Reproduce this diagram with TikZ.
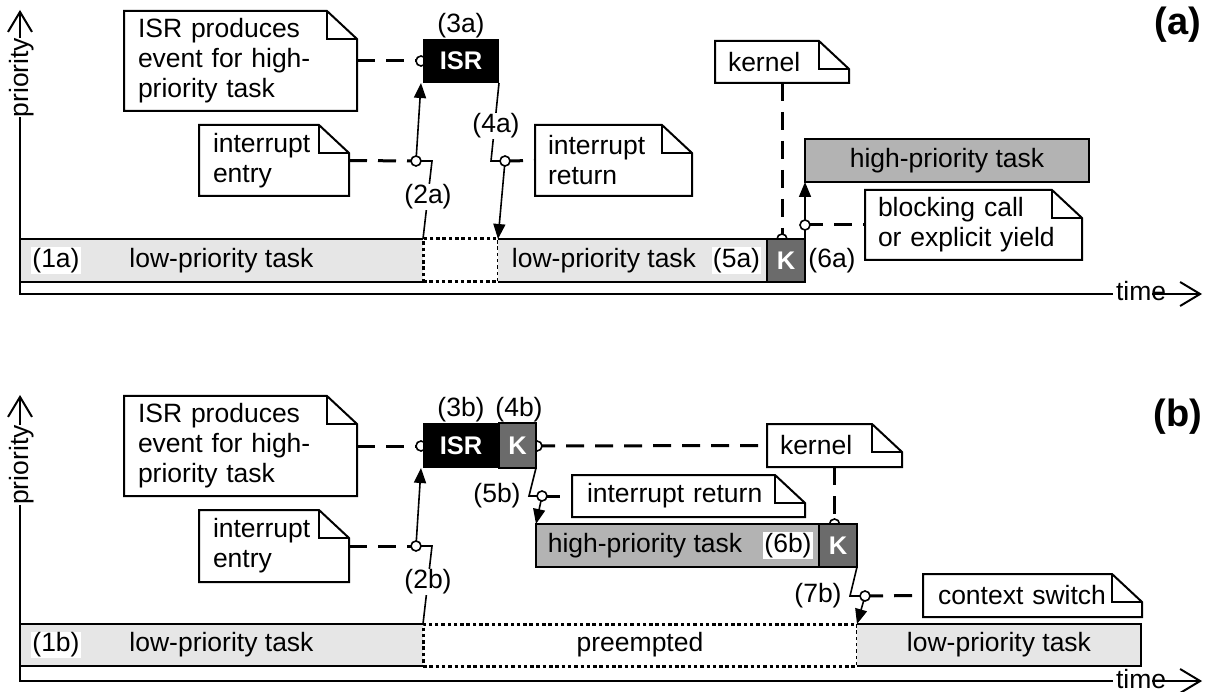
\documentclass[tikz,border=0pt]{standalone}
\usepackage{fontspec}
\setmainfont{Liberation Sans}
\usetikzlibrary{arrows.meta}
\pgfdeclarelayer{bg}
\pgfsetlayers{bg,main}
\definecolor{lowgray}{HTML}{E6E6E6}
\definecolor{highgray}{HTML}{B3B3B3}
\definecolor{kgray}{HTML}{6B6B6B}
\newcommand\notedraw[1]{%
  \draw[noteline] (#1.north west) -- ([xshift=-30pt]#1.north east) -- ([yshift=-28pt]#1.north east) -- (#1.south east) -- (#1.south west) -- cycle;
  \draw[noteline] ([xshift=-30pt]#1.north east) |- ([yshift=-28pt]#1.north east);}
\begin{document}
\begin{tikzpicture}[x=1pt,y=-1pt,
  every node/.style={font=\fontsize{26.5pt}{30pt}\selectfont, inner sep=0pt, outer sep=0pt},
  bar/.style={anchor=north west},
  edge/.style={line width=2pt},
  dotbox/.style={draw, line width=3pt, dash pattern=on 3.5pt off 2.8pt},
  kbox/.style={draw, line width=2pt, fill=kgray, text=white, font=\fontsize{25.5pt}{30pt}\selectfont\bfseries},
  isrbox/.style={fill=black, text=white, font=\fontsize{25.5pt}{30pt}\selectfont\bfseries},
  highbox/.style={draw, line width=2pt, fill=highgray},
  note/.style={anchor=north west, fill=white, align=left},
  noteline/.style={line width=2pt, line join=miter},
  wlabel/.style={fill=white, inner xsep=1pt, inner ysep=1pt},
  dashline/.style={line width=3pt, dash pattern=on 18pt off 11pt},
  plain/.style={line width=1.6pt},
  arr/.style={line width=1.6pt, -{Triangle[length=15pt,width=12pt]}},
  dot/.style={circle, draw, fill=white, line width=1.6pt, minimum size=10pt, inner sep=0pt},
  axis/.style={line width=2pt},
  axarrow/.style={line width=2pt, -{Straight Barb[length=20pt,width=24pt]}},
  big/.style={font=\fontsize{38pt}{42pt}\selectfont\bfseries}
]
\useasboundingbox (0,0) rectangle (1210,692);

% ================= panel (a) =================
\node[rotate=90] (prA) at (22,77.5) {priority};
\coordinate (oA) at (20,294);
\coordinate (tipA) at (20,10);
\node[anchor=base west] (tmA) at (1116,301) {time};
\draw[axis] (prA.west -| oA) -- (oA) -- ([xshift=-3pt]tmA.west |- oA);
\draw[axarrow] (prA.east -| oA) -- (tipA);
\draw[axarrow] ([xshift=-14pt]tmA.east |- oA) -- ([xshift=36pt]tmA.east |- oA);
\node[big] (labA) at (1178,25) {(a)};

\node[bar, fill=lowgray, minimum width=403pt, minimum height=43pt] (lowA1) at (20,239) {low-priority task};
\node[bar, dotbox, minimum width=75pt, minimum height=43pt] (dotA) at (423,239) {};
\node[bar, fill=lowgray, minimum width=269pt, minimum height=43pt] (lowA2) at (498,239) {};
\node (tA2) at (604,260.5) {low-priority task};
\draw[edge] (lowA1.north east) -- (lowA1.north west) -- (lowA1.south west) -- (lowA1.south east);
\draw[edge] (lowA2.north west) -- (lowA2.north east) -- (lowA2.south east) -- (lowA2.south west);
\node[bar, kbox, minimum width=38pt, minimum height=43pt] (kA) at (767,239) {K};
\node[bar, highbox, minimum width=284pt, minimum height=43pt] (highA) at (805,139) {high-priority task};
\node[bar, isrbox, minimum width=76pt, minimum height=44pt] (isrA) at (423,39) {ISR};

\node[wlabel] (l1a) at (56,260.5) {(1a)};
\node[wlabel] (l5a) at (736.5,260.5) {(5a)};
\node (l6a) at (832,261) {(6a)};
\node (l3a) at (461,26) {(3a)};

\node[note, inner xsep=14pt, text width=205pt, minimum height=100pt] (nIsrA) at (124,11) {ISR produces\\event for high-\\priority task};
\notedraw{nIsrA}
\node[note, inner xsep=14pt, text width=122pt, minimum height=71pt] (nEntA) at (199,125) {interrupt\\entry};
\notedraw{nEntA}
\node[note, inner xsep=13pt, text width=131pt, minimum height=71pt] (nRetA) at (535,125) {interrupt\\return};
\notedraw{nRetA}
\node[note, inner xsep=13pt, text width=108pt, minimum height=42pt] (nKerA) at (715,41) {kernel};
\notedraw{nKerA}
\node[note, inner xsep=13pt, text width=191pt, minimum height=70pt] (nBlkA) at (865,190) {blocking call\\or explicit yield};
\notedraw{nBlkA}

\coordinate (kEntA) at (432,161);
\coordinate (kRetA) at (491,161);
\node[wlabel] (l2a) at (428,197) {(2a)};
\node[wlabel] (l4a) at (496,126) {(4a)};

\begin{pgfonlayer}{bg}
\coordinate (cIsrA) at (421,61);
\draw[dashline] (nIsrA.east) -- (cIsrA);
\node[dot] (cIsrAd) at (cIsrA) {};
\coordinate (cEntA) at (416,161);
\draw[dashline] (nEntA.east) -- (cEntA);
\draw[plain] (lowA1.north east) -- (kEntA) -- (cEntA);
\draw[arr] (cEntA) -- ([xshift=-2pt]isrA.south west);
\node[dot] (cEntAd) at (cEntA) {};
\coordinate (cRetA) at (505,161);
\draw[plain] (isrA.south east) -- (kRetA) -- (cRetA);
\draw[arr] (cRetA) -- (lowA2.north west);
\draw[dashline] (cRetA) -- (nRetA.west);
\node[dot] (cRetAd) at (cRetA) {};
\draw[dashline] (nKerA.south) -- (nKerA.south |- kA.north);
\node[dot] (cKerA) at (nKerA.south |- kA.north) {};
\draw[arr] (kA.north east) -- (highA.south west);
\draw[dashline] (kA.north east |- nBlkA.west) -- (nBlkA.west);
\node[dot] (cBlkA) at (kA.north east |- nBlkA.west) {};
\end{pgfonlayer}

% ================= panel (b) =================
\node[rotate=90] (prB) at (22,465) {priority};
\coordinate (oB) at (20,681);
\coordinate (tipB) at (20,395);
\node[anchor=base west] (tmB) at (1116,688) {time};
\draw[axis] (prB.west -| oB) -- (oB) -- ([xshift=-3pt]tmB.west |- oB);
\draw[axarrow] (prB.east -| oB) -- (tipB);
\draw[axarrow] ([xshift=-14pt]tmB.east |- oB) -- ([xshift=36pt]tmB.east |- oB);
\node[big] (labB) at (1178,417) {(b)};

\node[bar, fill=lowgray, minimum width=403pt, minimum height=42pt] (lowB1) at (20,624) {low-priority task};
\node[bar, dotbox, minimum width=434pt, minimum height=42pt] (preB) at (423,624) {preempted};
\node[bar, fill=lowgray, minimum width=284pt, minimum height=42pt] (lowB3) at (857,624) {low-priority task};
\draw[edge] (lowB1.north east) -- (lowB1.north west) -- (lowB1.south west) -- (lowB1.south east);
\draw[edge] (lowB3.north west) -- (lowB3.north east) -- (lowB3.south east) -- (lowB3.south west);
\node[bar, isrbox, minimum width=76pt, minimum height=45pt] (isrB) at (423,423) {ISR};
\node[bar, kbox, minimum width=37pt, minimum height=45pt] (kB1) at (499,423) {K};
\node[bar, highbox, minimum width=283pt, minimum height=43pt] (highB) at (536,524) {};
\node (tB2) at (645,545.5) {high-priority task};
\node[bar, kbox, minimum width=38pt, minimum height=43pt] (kB2) at (819,524) {K};

\node[wlabel] (l1b) at (56,645) {(1b)};
\node[wlabel] (l6b) at (788,545.5) {(6b)};
\node (l3b) at (461,410) {(3b)};
\node (l4b) at (519,410) {(4b)};
\node (l5b) at (497,496) {(5b)};
\node (l7b) at (818,596) {(7b)};

\node[note, inner xsep=14pt, text width=205pt, minimum height=100pt] (nIsrB) at (124,396) {ISR produces\\event for high-\\priority task};
\notedraw{nIsrB}
\node[note, inner xsep=14pt, text width=122pt, minimum height=72pt] (nEntB) at (199,510) {interrupt\\entry};
\notedraw{nEntB}
\node[note, inner xsep=13pt, text width=109pt, minimum height=43pt] (nKerB) at (767,424) {kernel};
\notedraw{nKerB}
\node[note, inner xsep=15pt, text width=203pt, minimum height=42pt] (nRetB) at (572,475) {interrupt return};
\notedraw{nRetB}
\node[note, inner xsep=15pt, text width=189pt, minimum height=43pt] (nCtxB) at (923,574) {context switch};
\notedraw{nCtxB}

\coordinate (kEntB) at (432,546);
\coordinate (kRetB) at (529,496);
\coordinate (kCtxB) at (850,596);
\node[wlabel] (l2b) at (428,582) {(2b)};

\begin{pgfonlayer}{bg}
\coordinate (cIsrB) at (421,446);
\draw[dashline] (nIsrB.east) -- (cIsrB);
\node[dot] (cIsrBd) at (cIsrB) {};
\coordinate (cEntB) at (416,546);
\draw[dashline] (nEntB.east) -- (cEntB);
\draw[plain] (lowB1.north east) -- (kEntB) -- (cEntB);
\draw[arr] (cEntB) -- ([xshift=-2pt]isrB.south west);
\node[dot] (cEntBd) at (cEntB) {};
\coordinate (cKB) at (537,446);
\draw[dashline] (cKB) -- (nKerB.west);
\node[dot] (cKBd) at (cKB) {};
\coordinate (cRetB) at (542,496);
\draw[plain] (kB1.south east) -- (kRetB) -- (cRetB);
\draw[arr] (cRetB) -- (highB.north west);
\draw[dashline] (cRetB) -- (nRetB.west);
\node[dot] (cRetBd) at (cRetB) {};
\draw[dashline] (nKerB.south) -- (nKerB.south |- kB2.north);
\node[dot] (cKerB) at (nKerB.south |- kB2.north) {};
\coordinate (cCtxB) at (865,596);
\draw[plain] (kB2.south east) -- (kCtxB) -- (cCtxB);
\draw[arr] (cCtxB) -- (lowB3.north west);
\draw[dashline] (cCtxB) -- (nCtxB.west);
\node[dot] (cCtxBd) at (cCtxB) {};
\end{pgfonlayer}
\end{tikzpicture}
\end{document}
